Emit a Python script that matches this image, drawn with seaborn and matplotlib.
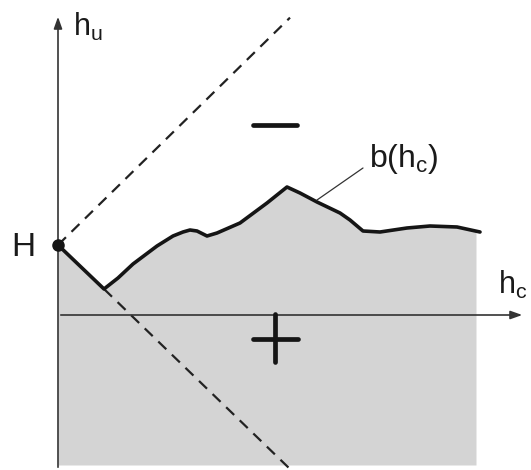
import matplotlib
matplotlib.use("Agg")
import matplotlib.pyplot as plt
import seaborn as sns
import numpy as np
import pandas as pd

# boundary curve b(h_c)
hc = [0.00, 0.46, 0.60, 0.75, 0.99, 1.15, 1.25, 1.32, 1.39, 1.49, 1.59, 1.82,
      2.09, 2.29, 2.42, 2.59, 2.82, 2.92, 3.05, 3.22, 3.49, 3.72, 3.99, 4.22]
b = [0.70, 0.26, 0.37, 0.51, 0.69, 0.79, 0.83, 0.85, 0.84, 0.79, 0.82, 0.92,
     1.12, 1.28, 1.22, 1.13, 1.02, 0.95, 0.84, 0.83, 0.87, 0.89, 0.88, 0.83]
H = 0.70
shade_right = 4.18
shade_bottom = -1.50

sns.set_style("white")
fig = plt.figure(figsize=(5.31, 4.70), dpi=100)
ax = fig.add_axes([0, 0, 1, 1])
ax.set_xlim(-0.58, 4.73)
ax.set_ylim(-1.55, 3.15)
ax.axis("off")

df = pd.DataFrame({"hc": hc, "b": b})

# shaded region under the curve
xs = np.array(hc)
mask = xs <= shade_right
fx = list(xs[mask]) + [shade_right]
fy = list(np.array(b)[mask]) + [float(np.interp(shade_right, hc, b))]
ax.fill_between(fx, fy, shade_bottom, color="#d4d4d4", lw=0, zorder=1)

# axes arrows
ax.annotate("", xy=(0, 3.01), xytext=(0, -1.55),
            arrowprops=dict(arrowstyle="-|>,head_length=0.7,head_width=0.25", color="#333333", lw=1.2), zorder=3)
ax.annotate("", xy=(4.67, 0), xytext=(0, 0),
            arrowprops=dict(arrowstyle="-|>,head_length=0.7,head_width=0.25", color="#333333", lw=1.2), zorder=3)

# dashed 45-degree lines
ax.plot([0, 2.32], [H, H + 2.32 * 0.98], ls=(0, (5, 3.5)), color="#222222", lw=1.6, zorder=2)
ax.plot([hc[1], hc[1] + 1.86], [b[1], b[1] - 1.80], ls=(0, (5, 3.5)), color="#222222", lw=1.6, zorder=2)

# curve
sns.lineplot(data=df, x="hc", y="b", ax=ax, color="#151515", lw=2.6, sort=False, zorder=4,
             solid_joinstyle="round", solid_capstyle="round")
ax.plot([0], [H], "o", color="#151515", ms=8, zorder=5)

# leader line and labels
ax.plot([2.59, 3.05], [1.15, 1.47], color="#333333", lw=0.9, zorder=4)
ax.text(3.11, 1.56, r"b(h$_\mathregular{c}$)", fontsize=23, color="#1a1a1a", va="center", ha="left",
        family="Liberation Sans")
ax.text(-0.345, 0.67, "H", fontsize=24, color="#1a1a1a", va="center", ha="center", family="Liberation Sans")
ax.text(0.15, 2.88, r"h$_\mathregular{u}$", fontsize=22, color="#1a1a1a", va="center", ha="left",
        family="Liberation Sans")
ax.text(4.40, 0.30, r"h$_\mathregular{c}$", fontsize=22, color="#1a1a1a", va="center", ha="left",
        family="Liberation Sans")

# sign markers
ax.plot([1.95, 2.39], [1.90, 1.90], color="#151515", lw=3.4, zorder=4)
ax.plot([1.95, 2.40], [-0.24, -0.24], color="#151515", lw=3.4, zorder=4)
ax.plot([2.17, 2.17], [0.01, -0.47], color="#151515", lw=3.4, zorder=4)

fig.savefig("out.png", dpi=100)
